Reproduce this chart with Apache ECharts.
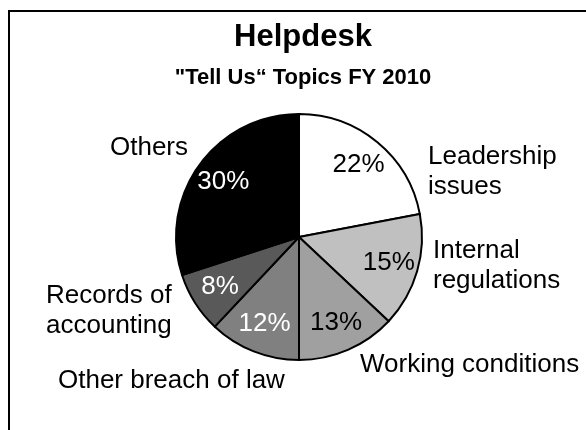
<!DOCTYPE html>
<html>
<head>
<meta charset="utf-8">
<script src="https://cdn.jsdelivr.net/npm/echarts@6/dist/echarts.min.js"></script>
<style>
  html, body { margin: 0; padding: 0; background: #fff; }
  #chart { width: 586px; height: 430px; }
</style>
</head>
<body>
<div id="chart"></div>
<script>
const topics = [
  "Leadership\nissues",
  "Internal\nregulations",
  "Working conditions",
  "Other breach of law",
  "Records of\naccounting",
  "Others"
];
const shares = [22, 15, 13, 12, 8, 30];

// slice fills and label colours, in the same order as topics
const fills = ["#ffffff", "#c0c0c0", "#a0a0a0", "#808080", "#595959", "#000000"];
const inkColors = ["#000", "#000", "#000", "#fff", "#fff", "#fff"];
// top-left corner of each category label
const namePos = [[428, 142], [433, 236], [360, 350], [58, 366], [46, 281], [110, 133]];

const font = "'Liberation Sans', Arial, sans-serif";
const center = [299, 237];
const R = 123;

const pieData = topics.map((t, i) => ({
  name: t,
  value: shares[i],
  itemStyle: { color: fills[i] },
  label: { color: inkColors[i] }
}));

const option = {
  animation: false,
  backgroundColor: "#fff",
  title: {
    text: "Helpdesk",
    subtext: "\"Tell Us\u201C Topics FY 2010",
    left: 298,
    top: 17,
    textAlign: "center",
    itemGap: 14,
    textStyle: { fontFamily: font, fontSize: 31, fontWeight: "bold", color: "#000" },
    subtextStyle: { fontFamily: font, fontSize: 22, fontWeight: "bold", color: "#000" }
  },
  graphic: [{
    type: "rect",
    shape: { x: 9, y: 11, width: 700, height: 600 },
    style: { fill: "none", stroke: "#000", lineWidth: 2 },
    silent: true
  }],
  series: [
    {
      // the visible pie
      type: "pie",
      center: center,
      radius: [0, R],
      startAngle: 90,
      clockwise: true,
      silent: true,
      label: { show: false },
      labelLine: { show: false },
      itemStyle: { borderColor: "#000", borderWidth: 2 },
      data: pieData
    },
    {
      // percentage labels, placed inside the slices
      type: "pie",
      center: center,
      radius: [58, R],
      startAngle: 90,
      clockwise: true,
      silent: true,
      itemStyle: { color: "transparent", borderWidth: 0 },
      label: {
        show: true,
        position: "inside",
        formatter: "{c}%",
        fontFamily: font,
        fontSize: 26
      },
      labelLine: { show: false },
      data: pieData.map(d => ({ name: d.name, value: d.value, label: d.label }))
    },
    {
      // category names around the pie
      type: "pie",
      center: center,
      radius: [0, R],
      startAngle: 90,
      clockwise: true,
      silent: true,
      itemStyle: { color: "transparent", borderWidth: 0 },
      label: {
        show: true,
        position: "outside",
        formatter: "{b}",
        overflow: "none",
        fontFamily: font,
        fontSize: 26,
        lineHeight: 30,
        color: "#000"
      },
      labelLine: { show: false },
      labelLayout: function (params) {
        const p = namePos[params.dataIndex];
        return { x: p[0], y: p[1], align: "left", verticalAlign: "top", moveOverlap: null };
      },
      data: topics.map((t, i) => ({ name: t, value: shares[i] }))
    }
  ]
};

const myChart = echarts.init(document.getElementById("chart"), null, { renderer: "canvas" });
myChart.setOption(option);
</script>
</body>
</html>
